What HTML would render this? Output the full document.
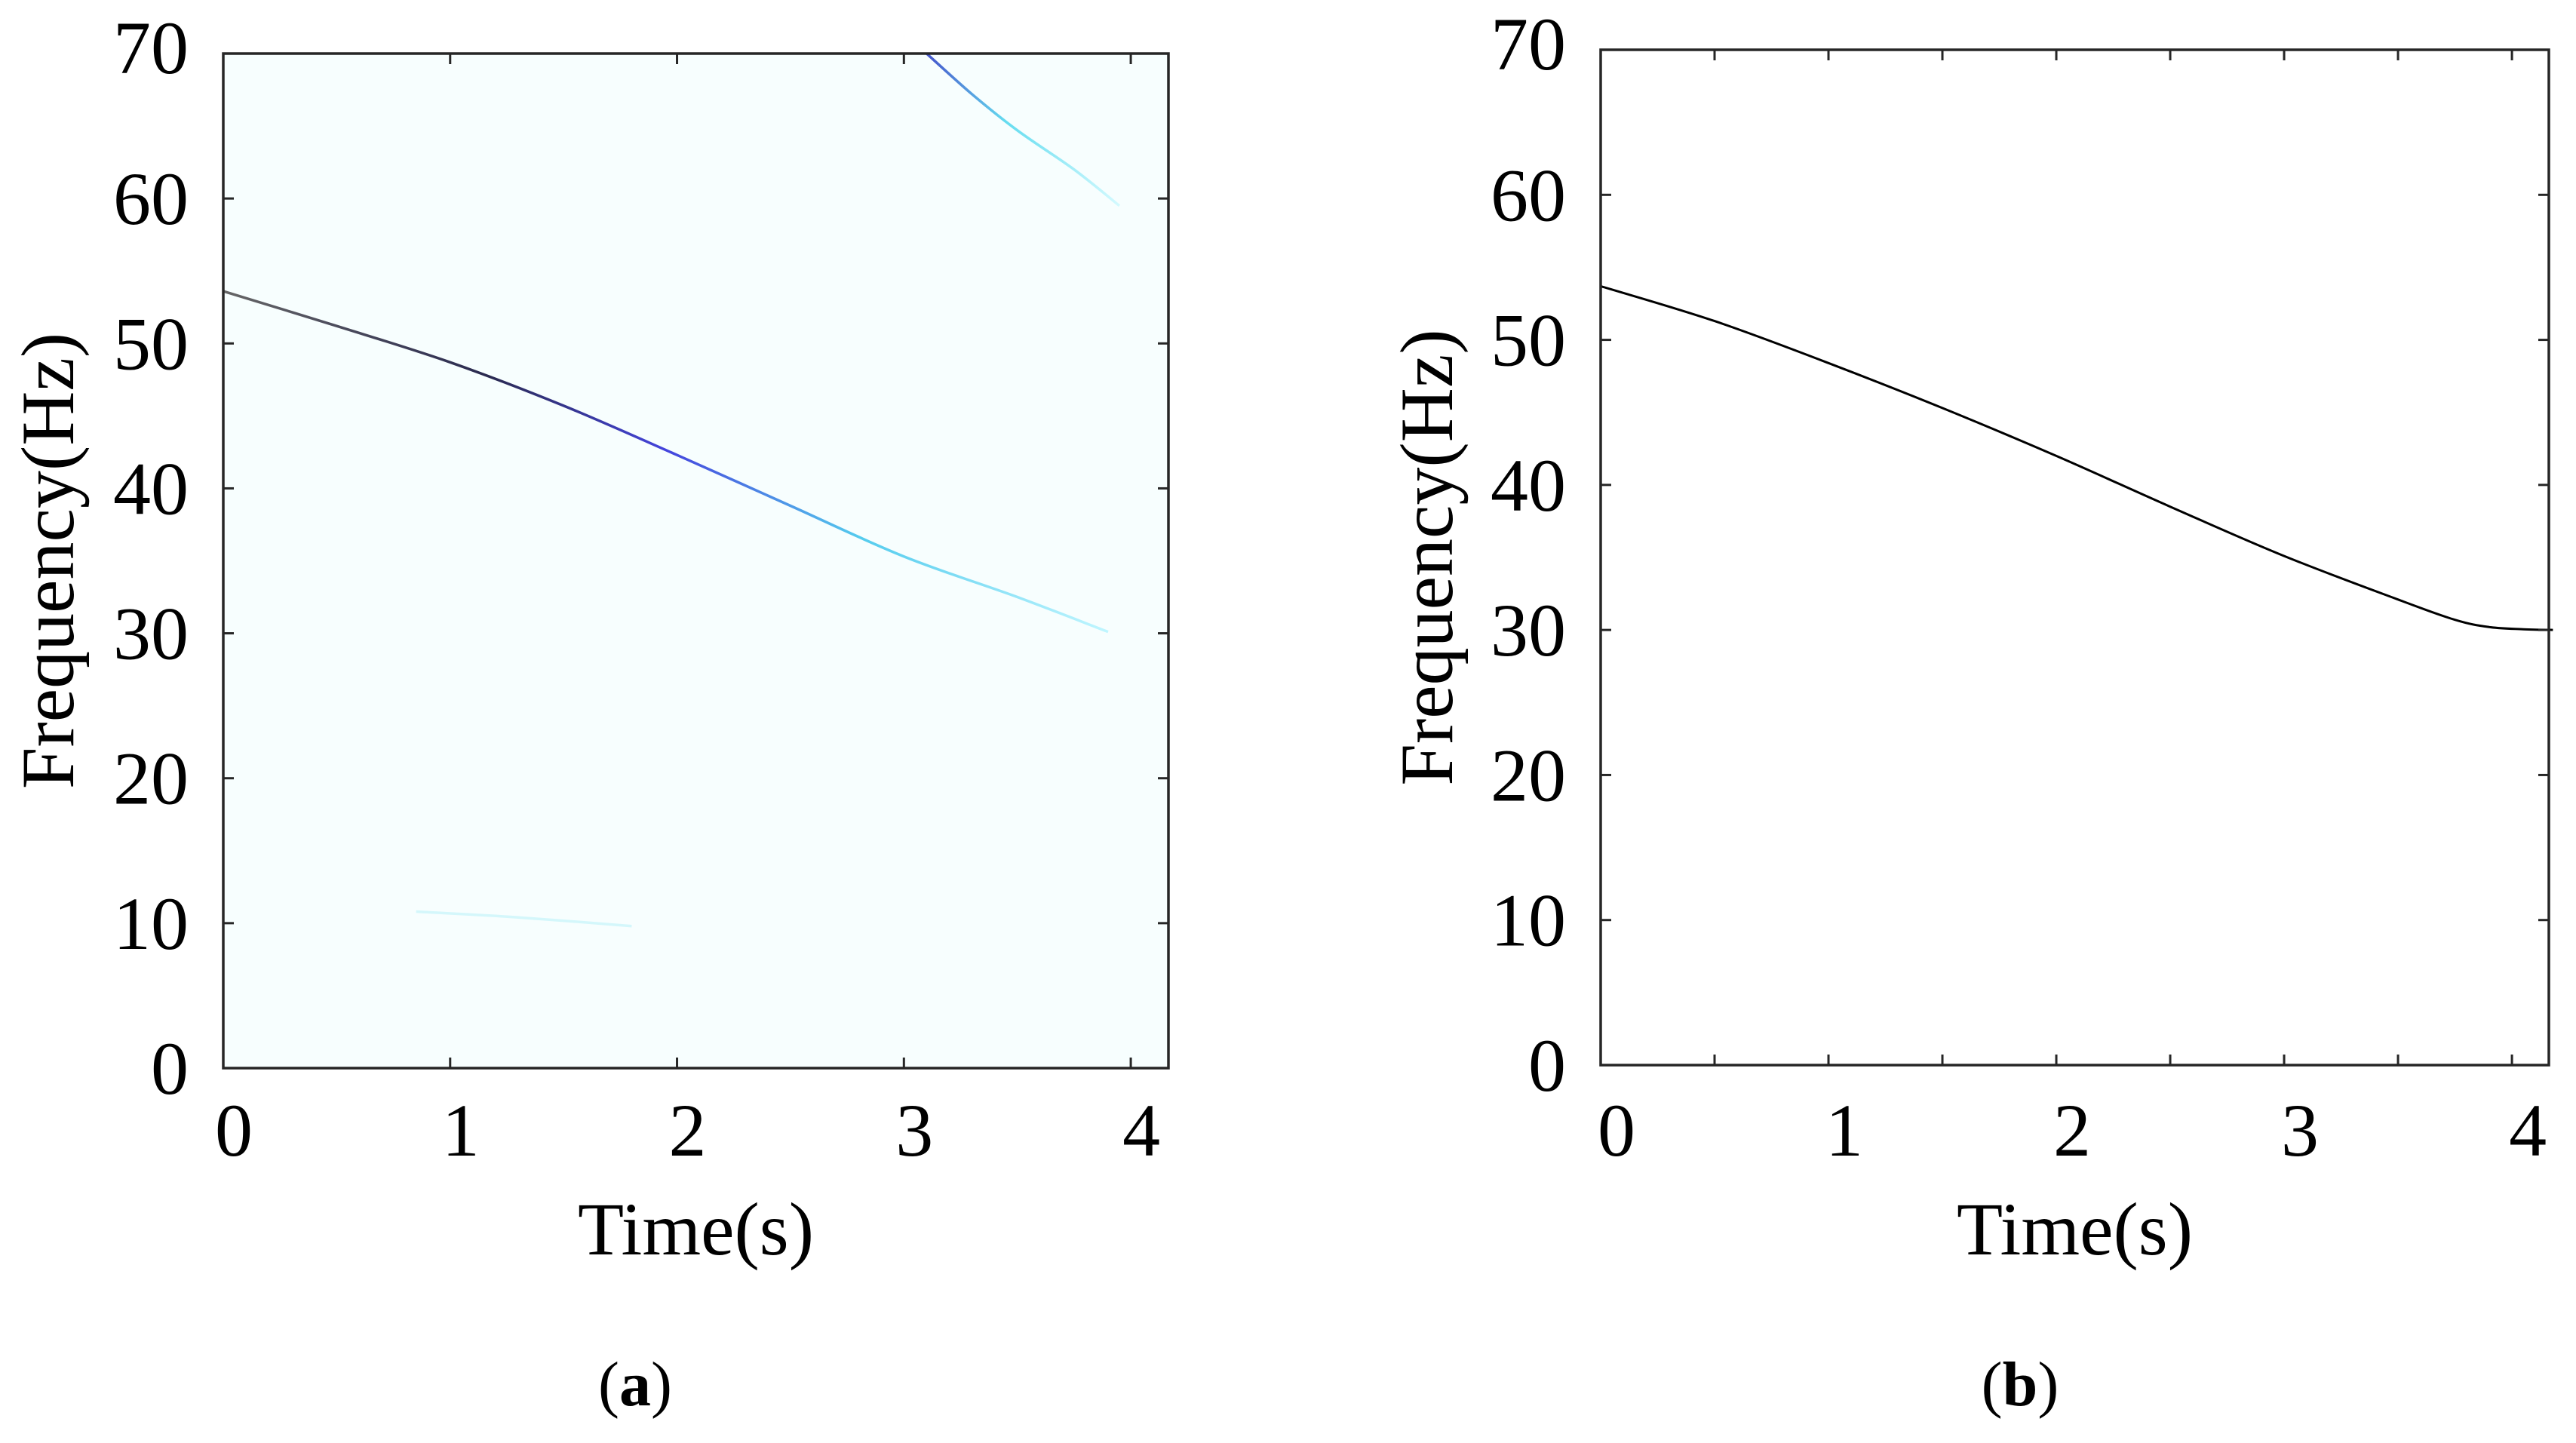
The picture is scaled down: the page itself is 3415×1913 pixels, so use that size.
<!DOCTYPE html>
<html><head><meta charset="utf-8"><style>
html,body{margin:0;padding:0;background:#fff;}
svg{display:block;font-family:"Liberation Serif",serif;}
</style></head><body>
<svg id="fig" width="3415" height="1913" viewBox="0 0 3415 1913" xmlns="http://www.w3.org/2000/svg">
<defs>
<linearGradient id="gradMain" gradientUnits="userSpaceOnUse" x1="296" y1="0" x2="1470" y2="0">
<stop offset="0" stop-color="#666"/><stop offset="0.3" stop-color="#2a2a50"/><stop offset="0.5" stop-color="#4444dd"/><stop offset="0.72" stop-color="#55ccee"/><stop offset="1" stop-color="#c0f6ff"/>
</linearGradient>
<linearGradient id="gradUp" gradientUnits="userSpaceOnUse" x1="1230" y1="0" x2="1490" y2="0">
<stop offset="0" stop-color="#4455cc"/><stop offset="0.4" stop-color="#66ddf0"/><stop offset="1" stop-color="#d8fbff"/>
</linearGradient>
</defs>
<g id="panelA"></g>
<g id="panelB"></g>
</svg>
<script>
const timeTicks = [0,1,2,3,4];
const freqTicks = [0,10,20,30,40,50,60,70];
const mainT = [0,0.5,1,1.5,2,2.5,3,3.5,3.9];
const mainF = [53.6,51.2,48.7,45.7,42.3,38.8,35.3,32.5,30.1];
const upperT = [3.1,3.3,3.5,3.75,3.95];
const upperF = [70,67.2,64.7,62,59.5];
const faintT = [0.85,1.3,1.8];
const faintF = [10.8,10.4,9.8];
const ridgeT = [0,0.5,1,1.5,2,2.5,3,3.5,3.75,3.9,4.05,4.18];
const ridgeF = [53.7,51.3,48.4,45.3,42,38.5,35.1,32.1,30.7,30.2,30.05,30.0];

const NS="http://www.w3.org/2000/svg";
function mk(tag,attrs,parent){const e=document.createElementNS(NS,tag);for(const k in attrs)e.setAttribute(k,attrs[k]);parent.appendChild(e);return e;}

function smooth(T,F,sx,sy){
  const p=T.map((t,i)=>[sx(t),sy(F[i])]);
  let d='M'+p[0][0].toFixed(1)+','+p[0][1].toFixed(1);
  for(let i=0;i<p.length-1;i++){
    const p0=p[Math.max(0,i-1)],p1=p[i],p2=p[i+1],p3=p[Math.min(p.length-1,i+2)];
    const c1=[p1[0]+(p2[0]-p0[0])/6,p1[1]+(p2[1]-p0[1])/6];
    const c2=[p2[0]-(p3[0]-p1[0])/6,p2[1]-(p3[1]-p1[1])/6];
    d+=' C'+c1[0].toFixed(1)+','+c1[1].toFixed(1)+' '+c2[0].toFixed(1)+','+c2[1].toFixed(1)+' '+p2[0].toFixed(1)+','+p2[1].toFixed(1);
  }
  return d;
}

function panel(g,cfg){
  const {x0,x1,y0,y1,tmax,minor}=cfg;
  const sx=t=>x0+(t/tmax)*(x1-x0);
  const sy=f=>y1-(f/70)*(y1-y0);
  const bg=mk('rect',{x:x0,y:y0,width:x1-x0,height:y1-y0,fill:cfg.bg,stroke:'none'},g);
  
  
  cfg.draw(sx,sy);
  const tl=14;
  const tks=minor?[0,0.5,1,1.5,2,2.5,3,3.5,4]:timeTicks;
  tks.forEach(t=>{
    const x=sx(t);
    const a=mk('line',{x1:x,y1:y1,x2:x,y2:y1-tl,stroke:'#262626','stroke-width':3},g);
    
    
    const b=mk('line',{x1:x,y1:y0,x2:x,y2:y0+tl,stroke:'#262626','stroke-width':3},g);
    
    
  });
  timeTicks.forEach(t=>{
    const tx=mk('text',{x:sx(t)+cfg.xoff,y:1532,'font-size':100,'text-anchor':'middle',fill:'#000'},g);
    tx.textContent=String(t);
    
    
  });
  freqTicks.forEach(f=>{
    const y=sy(f);
    const a=mk('line',{x1:x0,y1:y,x2:x0+tl,y2:y,stroke:'#262626','stroke-width':3},g);
    
    
    const b=mk('line',{x1:x1,y1:y,x2:x1-tl,y2:y,stroke:'#262626','stroke-width':3},g);
    
    
    const tx=mk('text',{x:x0-46,y:(f===70?y+26:y+34),'font-size':100,'text-anchor':'end',fill:'#000'},g);
    tx.textContent=String(f);
    
    
  });
  const fr=mk('rect',{x:x0,y:y0,width:x1-x0,height:y1-y0,fill:'none',stroke:'#262626','stroke-width':3.5},g);
  
  
  const xt=mk('text',{x:(x0+x1)/2,y:1663,'font-size':100,'text-anchor':'middle',fill:'#000'},g);
  xt.textContent='Time(s)';
  
  
  const yt=mk('text',{x:0,y:0,'font-size':100,'text-anchor':'middle',fill:'#000',transform:`translate(${cfg.ytx},${(y0+y1)/2}) rotate(-90)`},g);
  yt.textContent='Frequency(Hz)';
  
  
  const cap=mk('text',{x:cfg.capx,y:1863,'font-size':84,'text-anchor':'middle',fill:'#000'},g);
  cap.innerHTML='(<tspan font-weight="bold">'+cfg.cap+'</tspan>)';
  
  
}

panel(document.getElementById('panelA'),{x0:296,x1:1549,y0:71,y1:1416,tmax:4.166,minor:false,bg:'#f7fefe',xoff:14,ytx:97,capx:842,cap:'a',
  draw:(sx,sy)=>{
    const g=document.getElementById('panelA');
    const m=mk('path',{d:smooth(mainT,mainF,sx,sy),fill:'none',stroke:'url(#gradMain)','stroke-width':3.5},g);
    
    
    const u=mk('path',{d:smooth(upperT,upperF,sx,sy),fill:'none',stroke:'url(#gradUp)','stroke-width':3.5},g);
    
    
    const f=mk('path',{d:smooth(faintT,faintF,sx,sy),fill:'none',stroke:'#d4f7fb','stroke-width':3.5},g);
    
    
  }});
panel(document.getElementById('panelB'),{x0:2122,x1:3379,y0:66,y1:1412,tmax:4.162,minor:true,bg:'#ffffff',xoff:21,ytx:1925,capx:2678,cap:'b',
  draw:(sx,sy)=>{
    const g=document.getElementById('panelB');
    const l=mk('path',{d:smooth(ridgeT,ridgeF,sx,sy),fill:'none',stroke:'#000','stroke-width':3,'stroke-linejoin':'round'},g);
    
    
  }});
</script>
</body></html>
